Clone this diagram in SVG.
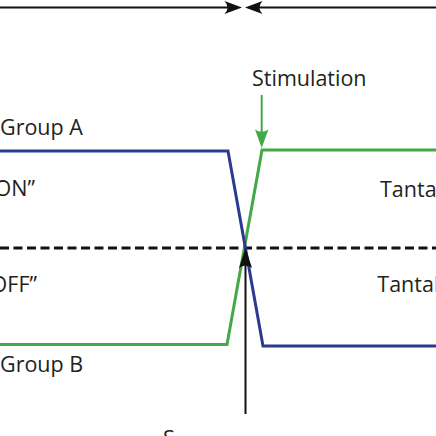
<svg xmlns="http://www.w3.org/2000/svg" width="436" height="436" viewBox="0 0 436 436">
<style>
.t{font-family:"Open Sans","Noto Sans","Liberation Sans",sans-serif;font-size:21.5px;fill:#231f20}
.blue{fill:none;stroke:#2b3990;stroke-width:3;stroke-linejoin:miter}
.green{fill:none;stroke:#43a847;stroke-width:3;stroke-linejoin:miter}
.blk{stroke:#111;stroke-width:2;fill:none}
</style>
<rect width="436" height="436" fill="#fff"/>
<g id="connectors">
  <line class="blk" x1="0" y1="7.5" x2="233" y2="7.5"/>
  <line class="blk" x1="254" y1="7.5" x2="436" y2="7.5"/>
  <path d="M242,7.5 L224.5,1 Q230.5,7.5 224.5,14 Z" fill="#111"/>
  <path d="M245,7.5 L262.5,1 Q256.5,7.5 262.5,14 Z" fill="#111"/>
  <line x1="0" y1="248" x2="436" y2="248" stroke="#111" stroke-width="3" stroke-dasharray="9 4.5"/>
  <path id="groupB-line" class="green" d="M0,344.5 L227,344.5 L262,150 L436,150"/>
  <path id="groupA-line" class="blue" d="M0,151 L228,151 L263,346 L436,346"/>
  <line x1="261.7" y1="95" x2="261.7" y2="138" stroke="#43a847" stroke-width="2"/>
  <path d="M261.7,148 L255,129.5 Q261.7,134 268.4,129.5 Z" fill="#43a847"/>
  <line class="blk" x1="245.5" y1="414" x2="245.5" y2="258"/>
  <path d="M245.5,248 L239,268 Q245.5,263 252,268 Z" fill="#111"/>
</g>
<g id="stimulation"><text class="t" x="252" y="86">Stimulation</text></g>
<g id="groupA"><text class="t" x="0" y="135">Group A</text></g>
<g id="groupB"><text class="t" x="0" y="371.5">Group B</text></g>
<g id="on"><text class="t" x="35" y="196" text-anchor="end">ON”</text></g>
<g id="off"><text class="t" x="37" y="292" text-anchor="end">OFF”</text></g>
<g id="tanta-on"><text class="t" x="380" y="196.5">Tanta</text></g>
<g id="tanta-off"><text class="t" x="377.3" y="291.7">Tantal</text></g>
<g id="bottom"><text class="t" x="163" y="446">S</text></g>
</svg>
